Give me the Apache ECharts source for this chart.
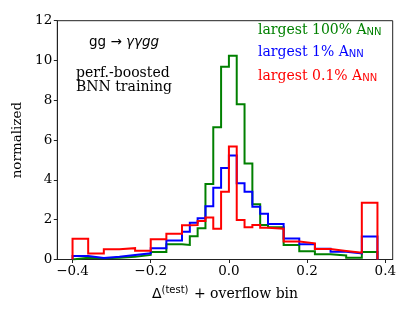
<!DOCTYPE html>
<html>
<head>
<meta charset="utf-8">
<script src="https://cdn.jsdelivr.net/npm/echarts@6/dist/echarts.min.js"></script>
<style>
html,body{margin:0;padding:0;background:#fff;}
#chart{width:411px;height:316px;}
</style>
</head>
<body>
<div id="chart"></div>
<script>
// Bin edges (variable width, last bin = overflow bin)
const binEdges = [-0.4,-0.36,-0.32,-0.28,-0.24,-0.2,-0.16,-0.12,-0.1,-0.08,-0.06,-0.04,-0.02,0,0.02,0.04,0.06,0.08,0.1,0.14,0.18,0.22,0.26,0.3,0.34,0.38];
// Normalized histogram heights per bin
const green100 = [0.09,0.06,0.09,0.14,0.23,0.38,0.77,0.73,1.17,1.57,3.80,6.64,9.69,10.24,7.80,4.83,2.78,1.73,1.62,0.73,0.42,0.26,0.20,0.09,0.38];
const blue1    = [0.18,0.08,0.14,0.23,0.31,0.56,0.95,1.40,1.85,2.07,2.67,3.60,4.60,5.22,3.83,3.41,2.65,2.30,1.78,1.06,0.77,0.54,0.39,0.31,1.15];
const red01    = [1.04,0.30,0.51,0.57,0.44,1.02,1.30,1.72,1.73,1.93,2.11,1.55,3.40,5.68,1.98,1.62,1.73,1.60,1.55,0.90,0.81,0.53,0.43,0.34,2.85];
const xTicks = [-0.4,-0.2,0.0,0.2,0.4];
const yTicks = [0,2,4,6,8,10,12];
const seriesNames = ['largest 100% A_NN','largest 1% A_NN','largest 0.1% A_NN'];

function stepPoints(vals){
  const pts = [[binEdges[0],0]];
  for(let i=0;i<vals.length;i++){
    pts.push([binEdges[i],vals[i]]);
    pts.push([binEdges[i+1],vals[i]]);
  }
  pts.push([binEdges[vals.length],0]);
  return pts;
}

const serif = "'DejaVu Serif', serif";
const sans = "'DejaVu Sans', sans-serif";

const chart = echarts.init(document.getElementById('chart'), null, {renderer:'canvas'});

function mkSeries(name, vals, color){
  return {
    name: name, type:'line', data: stepPoints(vals), symbol:'none',
    lineStyle:{color:color, width:2, join:'miter'}, animation:false, clip:true, z:2
  };
}

function legendText(prefix, color, y){
  return {
    type:'text', left:258, top:y - 9, z:10,
    style:{
      text:'{a|' + prefix + ' A}{s|NN}',
      rich:{
        a:{fontFamily:serif, fontSize:14, fill:color, fontWeight:'normal'},
        s:{fontFamily:sans, fontSize:10, fill:color, padding:[5,0,0,0]}
      }
    }
  };
}

const option = {
  animation:false,
  backgroundColor:'#fff',
  grid:{left:57.3, right:18.3, top:20.7, bottom:56.5, show:true, borderColor:'#222', borderWidth:1},
  xAxis:{
    type:'value', min:-0.439, max:0.419,
    axisLine:{show:true, onZero:false, lineStyle:{color:'#222', width:1}},
    axisTick:{show:true, inside:false, length:3.5, lineStyle:{color:'#222'}, customValues:xTicks},
    axisLabel:{show:true, margin:5, color:'#000', fontFamily:serif, fontSize:13.5, customValues:xTicks,
      formatter:function(v){ return (v<0?'\u2212':'') + Math.abs(v).toFixed(1); }},
    splitLine:{show:false},
    name:'{d|\u0394}{s|(test)}{t| + overflow bin}',
    nameLocation:'middle', nameGap:26,
    nameTextStyle:{
      color:'#000', fontFamily:serif, fontSize:14,
      rich:{
        d:{fontFamily:sans, fontSize:14, color:'#000'},
        s:{fontFamily:sans, fontSize:10, color:'#000', padding:[0,1,8,0]},
        t:{fontFamily:serif, fontSize:14, color:'#000'}
      }
    }
  },
  yAxis:{
    type:'value', min:0, max:12, interval:2,
    axisLine:{show:true, onZero:false, lineStyle:{color:'#222', width:1}},
    axisTick:{show:true, inside:false, length:3.5, lineStyle:{color:'#222'}},
    axisLabel:{show:true, margin:5, color:'#000', fontFamily:serif, fontSize:13.5},
    splitLine:{show:false},
    name:'normalized', nameLocation:'middle', nameGap:25,
    nameTextStyle:{color:'#000', fontFamily:serif, fontSize:13.5}
  },
  series:[
    mkSeries(seriesNames[0], green100, '#008000'),
    mkSeries(seriesNames[1], blue1, '#0000ff'),
    mkSeries(seriesNames[2], red01, '#ff0000')
  ],
  graphic:[
    {
      type:'text', left:89, top:35, z:10,
      style:{
        text:'{u|gg}{ar| \u2192 }{i|\u03b3\u03b3gg}',
        rich:{
          u:{fontFamily:sans, fontSize:13.5, fill:'#000'},
          ar:{fontFamily:sans, fontSize:13.5, fill:'#000'},
          i:{fontFamily:sans, fontSize:13.5, fill:'#000', fontStyle:'italic'}
        }
      }
    },
    {
      type:'text', left:76, top:66, z:10,
      style:{text:'perf.-boosted\nBNN training', fontFamily:serif, fontSize:14, lineHeight:14, fill:'#000'}
    },
    legendText('largest 100%', '#008000', 32),
    legendText('largest 1%', '#0000ff', 54),
    legendText('largest 0.1%', '#ff0000', 78)
  ]
};
chart.setOption(option);
</script>
</body>
</html>
